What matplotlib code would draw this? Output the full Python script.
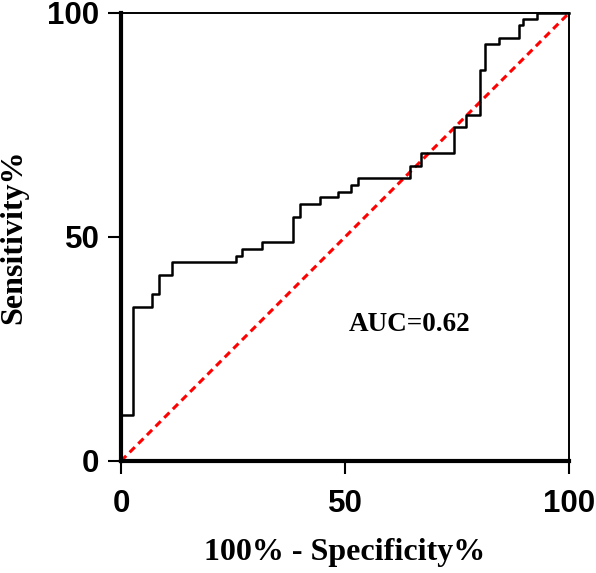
import matplotlib.pyplot as plt

# ROC curve corner points (100% - specificity, sensitivity), step-post
fpr = [0, 0, 2.6, 6.9, 8.5, 11.3, 25.6, 27.1, 31.4, 38.4, 40.0, 44.3, 48.5,
       51.3, 52.8, 64.4, 67.0, 74.3, 77.0, 80.1, 81.3, 84.4, 88.7, 89.8, 92.9, 100]
tpr = [0, 10.3, 34.4, 37.2, 41.5, 44.3, 45.8, 47.2, 48.8, 54.5, 57.4, 58.9, 60.1,
       61.6, 63.1, 65.8, 68.7, 74.5, 77.2, 87.3, 93.1, 94.5, 97.3, 98.7, 100, 100]
ref_line = [0, 100]
auc_text = "AUC=0.62"
ticks = [0, 50, 100]

serif = "Liberation Serif"
sans = "Liberation Sans"

fig = plt.figure(figsize=(5.96, 5.73), dpi=100)
ax = fig.add_axes([0.203, 0.1955, 0.752, 0.782])

ax.plot(fpr, tpr, drawstyle="steps-post", color="black", lw=1.8, clip_on=False, zorder=3)
ax.plot(ref_line, ref_line, color="red", lw=2.2, linestyle=(0, (2.4, 1.6)), clip_on=False, zorder=2)

ax.set_xlim(0, 100)
ax.set_ylim(0, 100)
ax.set_xticks(ticks)
ax.set_yticks(ticks)

for side in ["left", "bottom"]:
    ax.spines[side].set_linewidth(3)
for side in ["top", "right"]:
    ax.spines[side].set_linewidth(1.4)

ax.tick_params(axis="both", length=9.5, width=1.5, direction="out")
ax.tick_params(axis="x", pad=11)
ax.tick_params(axis="y", pad=6)
for lab in ax.get_xticklabels() + ax.get_yticklabels():
    lab.set_fontfamily(sans)
    lab.set_fontweight("bold")
    lab.set_fontsize(22.5)

ax.set_xlabel("100% - Specificity%", fontfamily=serif, fontweight="bold", fontsize=23, labelpad=13)
ax.set_ylabel("Sensitivity%", fontfamily=serif, fontweight="bold", fontsize=23, labelpad=14)

ax.text(64.3, 30.4, auc_text, fontfamily=serif, fontweight="bold", fontsize=19.5,
        ha="center", va="center")

fig.savefig("out.png", dpi=100)
